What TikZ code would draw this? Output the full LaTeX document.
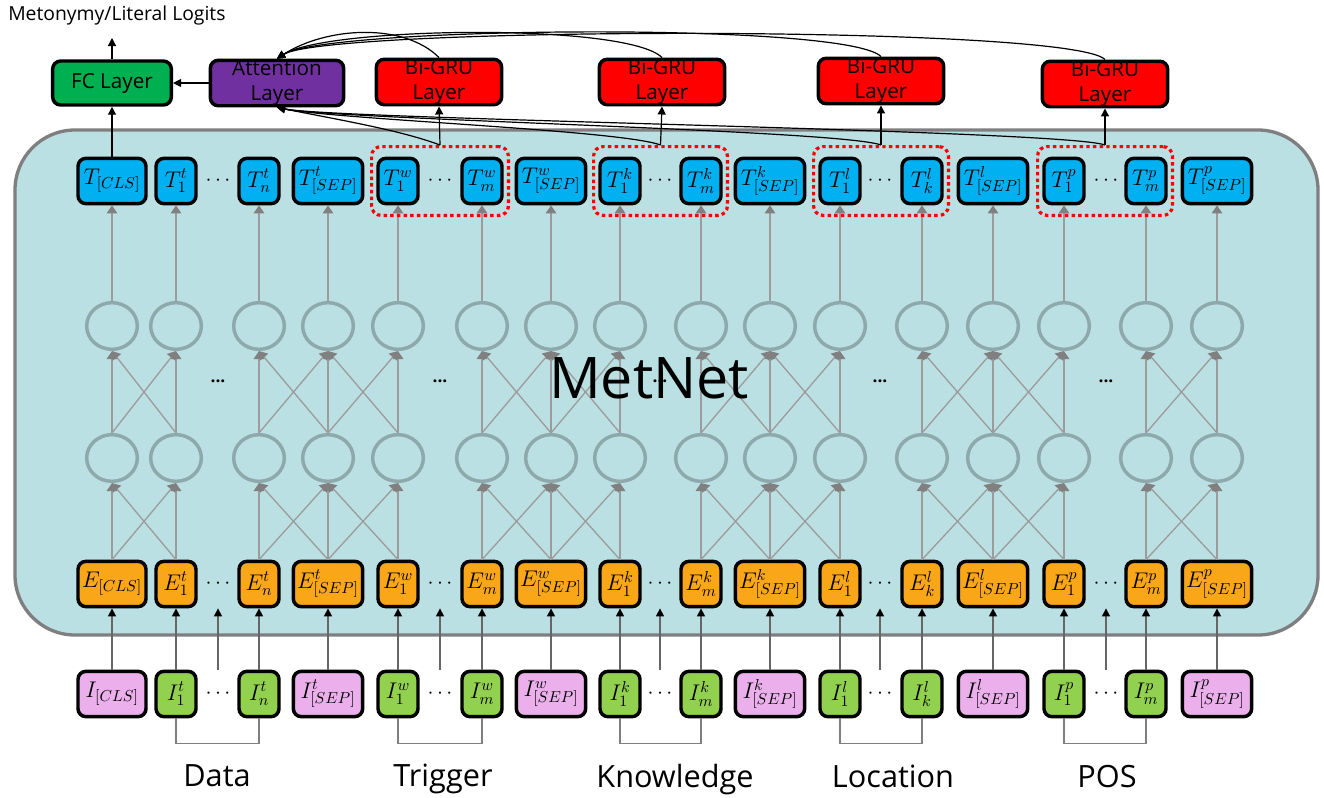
\documentclass[tikz,border=0pt]{standalone}
\usepackage{fix-cm}
\usepackage[no-math]{fontspec}
\setmainfont{Open Sans}
\usetikzlibrary{arrows.meta,positioning,shapes.geometric,fit}
\definecolor{tokblue}{HTML}{00B0F0}
\definecolor{tokorange}{HTML}{FAA619}
\definecolor{ipink}{HTML}{EBB0EB}
\definecolor{igreen}{HTML}{92D050}
\definecolor{panelfill}{HTML}{BBE0E3}
\definecolor{panelline}{HTML}{7F7F7F}
\definecolor{cellline}{HTML}{8EA9AB}
\definecolor{netgray}{HTML}{9C9C9C}
\definecolor{fcgreen}{HTML}{00B050}
\definecolor{attpurple}{HTML}{7030A0}
\definecolor{grured}{HTML}{FF0000}

\begin{document}
\begin{tikzpicture}[x=0.75pt,y=0.75pt,
  every node/.style={font=\fontsize{15.5}{19}\selectfont},
  tok/.style={draw=black,line width=2.6pt,rounded corners=6pt,minimum height=34pt,inner sep=1pt,
    font=\fontsize{17}{18}\selectfont},
  dotbox/.style={minimum height=36.6pt,inner sep=0pt,outer sep=0pt,font=\fontsize{16}{18}\selectfont},
  netdots/.style={inner sep=0pt,font=\fontsize{13}{15}\selectfont\bfseries},
  cell/.style={ellipse,draw=cellline,line width=2.6pt,minimum width=38pt,minimum height=35pt},
  layer/.style={draw=black,line width=2.6pt,rounded corners=6pt,minimum height=33pt,inner sep=0pt,align=center},
  grp/.style={draw=grured,line width=2.4pt,dash pattern=on 2.6pt off 2.4pt,rounded corners=7pt,inner xsep=3.5pt,inner ysep=7.5pt},
  panel/.style={fill=panelfill,draw=panelline,line width=2.5pt,rounded corners=45pt},
  net/.style={netgray,line width=1pt,-{Triangle[length=6pt,width=8pt,color=gray]}},
  inarr/.style={black!60,line width=1.1pt,-{Triangle[length=6pt,width=6pt,color=black]}},
  link/.style={black,line width=0.9pt,-{Triangle[length=6pt,width=6pt]}},
  brk/.style={panelline,line width=1pt},
  grplab/.style={anchor=base,font=\fontsize{23}{28}\selectfont}]
\useasboundingbox (0,0) rectangle (1324,-797);

% encoder background
\draw[panel] (15,-130) rectangle (1318,-635);

% token columns
\foreach \c/\x/\bw/\ic/\sc in {1/112/51/ipink/_{[CLS]}, 2/176/30/igreen/^t_1, 3/259/30/igreen/^t_n,
    4/328/52/ipink/^t_{[SEP]}, 5/398/30/igreen/^w_1, 6/482/30/igreen/^w_m, 7/551/52/ipink/^w_{[SEP]},
    8/620/30/igreen/^k_1, 9/701/30/igreen/^k_m, 10/770/52/ipink/^k_{[SEP]}, 11/840/30/igreen/^l_1,
    12/922/30/igreen/^l_k, 13/993/52/ipink/^l_{[SEP]}, 14/1064/30/igreen/^p_1, 15/1146/30/igreen/^p_m,
    16/1217/52/ipink/^p_{[SEP]}} {
  \node[tok,minimum width=\bw pt,fill=tokblue] (t\c) at (\x,-181) {$T\sc$};
  \node[cell] (u\c) at (\x,-326) {};
  \node[cell] (l\c) at (\x,-458) {};
  \node[tok,minimum width=\bw pt,fill=tokorange] (e\c) at (\x,-584) {$E\sc$};
  \node[tok,minimum width=\bw pt,fill=\ic] (i\c) at (\x,-694) {$I\sc$};
  \draw[inarr] (i\c.north) -- (e\c.south);
  \draw[net] (e\c.north) -- (l\c.south);
  \draw[net] (l\c.north) -- (u\c.south);
  \draw[net] (u\c.north) -- (t\c.south);
}

% crossings inside each segment
\foreach \a/\b in {1/2,3/4,4/5,6/7,7/8,9/10,10/11,12/13,13/14,15/16} {
  \draw[net] (e\a.north) -- (l\b.south);
  \draw[net] (e\b.north) -- (l\a.south);
  \draw[net] (l\a.north) -- (u\b.south);
  \draw[net] (l\b.north) -- (u\a.south);
}

% ellipses between tokens
\foreach \n/\x in {1/218,2/440,3/660,4/880,5/1106} {
  \node[dotbox] (td\n) at (\x,-181) {$\cdots$};
  \node[netdots] (cd\n) at (\x,-381) {...};
  \node[dotbox] (ed\n) at (\x,-584) {$\cdots$};
  \node[dotbox] (id\n) at (\x,-694) {$\cdots$};
  \draw[inarr] (id\n.north) -- (ed\n.south);
}

% input segments
\foreach \a/\b in {2/3,5/6,8/9,11/12,14/15}
  \draw[brk] (i\a.south) -- ++(0,-25) -| (i\b.south);
\node[grplab] (data) at (217,-786) {Data};
\node[grplab] (trig) at (443,-786) {Trigger};
\node[grplab] (know) at (675,-787) {Knowledge};
\node[grplab] (loc) at (893,-787) {Location};
\node[grplab] (pos) at (1107,-787) {POS};

% entity spans
\node[grp,fit=(t5)(t6)] (gw) {};
\node[grp,fit=(t8)(t9)] (gk) {};
\node[grp,fit=(t11)(t12)] (gl) {};
\node[grp,fit=(t14)(t15)] (gp) {};

% output layers
\node[layer,fill=fcgreen,minimum width=89pt] (fc) at (112,-83) {FC Layer};
\node[layer,fill=attpurple,minimum width=100pt] (attn) at (277,-83) {Attention\\Layer};
\node[layer,fill=grured,minimum width=94pt] (gru1) at (439,-82) {Bi-GRU\\Layer};
\node[layer,fill=grured,minimum width=94pt] (gru2) at (662,-82) {Bi-GRU\\Layer};
\node[layer,fill=grured,minimum width=94pt] (gru3) at (881,-81) {Bi-GRU\\Layer};
\node[layer,fill=grured,minimum width=94pt] (gru4) at (1105,-84) {Bi-GRU\\Layer};
\coordinate (out) at (112,-38);
\node[anchor=west,inner sep=0pt] (logits) at (8,-15) {\fontsize{14.5}{16}\selectfont Metonymy/Literal Logits};

\draw[link] (t1.north) -- (fc.south);
\draw[link] (attn.west) -- (fc.east);
\draw[link] (fc.north) -- (out);
\foreach \g/\r in {gw/gru1,gk/gru2,gl/gru3,gp/gru4} {
  \draw[link] (\g.north) -- (\r.south);
  \draw[link] (\g.north) .. controls +(-40,15) and +(60,-12) .. (attn.south);
  \draw[link] (\r.north) .. controls +(-35,35) and +(50,32) .. (attn.north);
}

\node[font=\fontsize{43}{50}\selectfont,anchor=base] (title) at (649,-398) {MetNet};
\end{tikzpicture}
\end{document}
